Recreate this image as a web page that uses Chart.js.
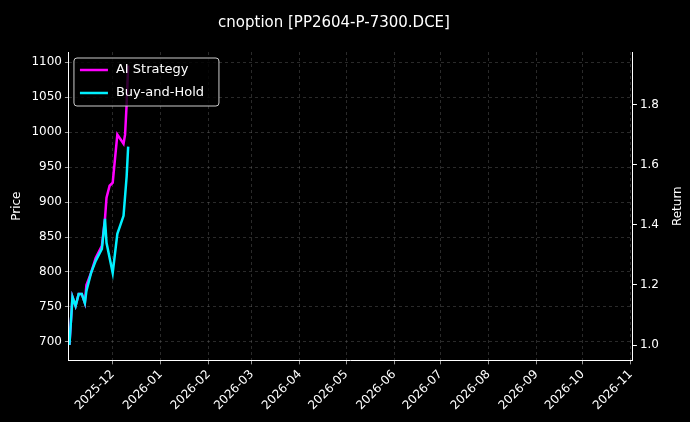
<!DOCTYPE html>
<html><head><meta charset="utf-8">
<script src="https://cdn.jsdelivr.net/npm/chart.js@4"></script>
<style>body{margin:0;background:#000}canvas{display:block}</style>
</head><body>
<canvas id="c" width="690" height="422"></canvas>
<script>
const dates = ["2025-11-03","2025-11-05","2025-11-07","2025-11-09","2025-11-11","2025-11-13","2025-11-14","2025-11-17","2025-11-20","2025-11-24","2025-11-26","2025-11-27","2025-11-29","2025-12-01","2025-12-04","2025-12-08","2025-12-09","2025-12-10","2025-12-11"];
const aiStrategy = [1.00,1.16,1.13,1.17,1.17,1.14,1.20,1.24,1.29,1.33,1.42,1.49,1.53,1.54,1.70,1.67,1.70,1.80,1.93];
const buyHold    = [1.00,1.16,1.13,1.17,1.17,1.14,1.18,1.24,1.28,1.32,1.42,1.34,null,1.24,1.37,1.43,null,1.56,1.66];
const monthTicks = ["2025-12-01","2026-01-01","2026-02-01","2026-03-01","2026-04-01","2026-05-01","2026-06-01","2026-07-01","2026-08-01","2026-09-01","2026-10-01","2026-11-01"];
const priceTicks = [700,750,800,850,900,950,1000,1050,1100];
const returnTicks = [1.0,1.2,1.4,1.6,1.8];

const DAY = 86400000;
const base = Date.UTC(2025,10,1);
const toDay = s => (Date.parse(s + "T00:00:00Z") - base) / DAY;
const fmt = d => { const t = new Date(base + d*DAY); return t.getUTCFullYear() + "-" + String(t.getUTCMonth()+1).padStart(2,"0"); };

const pts = arr => dates.map((d,i) => ({x: toDay(d), y: arr[i]})).filter(p => p.y !== null);

const legendBox = {
  id: "legendBox",
  afterDraw(chart) {
    const ctx = chart.ctx, a = chart.chartArea;
    const x0 = a.left + 5, y0 = a.top + 6;
    ctx.save();
    ctx.fillStyle = "rgba(0,0,0,0.8)";
    ctx.strokeStyle = "#cccccc";
    ctx.lineWidth = 1;
    ctx.beginPath(); ctx.roundRect(x0, y0, 145, 48, 3); ctx.fill(); ctx.stroke();
    ctx.font = "13px 'DejaVu Sans'";
    ctx.textBaseline = "middle";
    chart.data.datasets.forEach((ds, i) => {
      const y = y0 + 12 + i*23;
      ctx.strokeStyle = ds.borderColor; ctx.lineWidth = 2.5;
      ctx.beginPath(); ctx.moveTo(x0+6, y); ctx.lineTo(x0+34, y); ctx.stroke();
      ctx.fillStyle = "#ffffff"; ctx.fillText(ds.label, x0+42, y);
    });
    // right axis title, reading bottom-to-top
    ctx.translate(678, (a.top + a.bottom) / 2);
    ctx.rotate(-Math.PI / 2);
    ctx.textAlign = "center";
    ctx.font = "12px 'DejaVu Sans'";
    ctx.fillText("Return", 0, 0);
    ctx.restore();
  }
};

const font = {family: "'DejaVu Sans'", size: 12};
const grid = {color: "rgba(128,128,128,0.55)", tickColor: "#ffffff", tickLength: 4, lineWidth: 0.6};
new Chart(document.getElementById("c"), {
  type: "line",
  data: { datasets: [
    {label: "AI Strategy", data: pts(aiStrategy), borderColor: "#ff00ff", borderWidth: 2.5, pointRadius: 0, yAxisID: "y1", tension: 0, order: 1},
    {label: "Buy-and-Hold", data: pts(buyHold), borderColor: "#00f0ff", borderWidth: 2.5, pointRadius: 0, yAxisID: "y1", tension: 0, order: 0}
  ]},
  plugins: [legendBox],
  options: {
    responsive: false, animation: false,
    layout: {padding: {top: 14, right: 28, left: 6, bottom: 6}},
    plugins: {
      legend: {display: false}, tooltip: {enabled: false},
      title: {display: true, text: "cnoption [PP2604-P-7300.DCE]", color: "#ffffff", font: {family: "'DejaVu Sans'", size: 15, weight: "normal"}, padding: {top: 0, bottom: 20}}
    },
    scales: {
      x: {
        type: "linear", min: 1.7, max: 366.4,
        afterBuildTicks: s => { s.ticks = monthTicks.map(m => ({value: toDay(m)})); },
        ticks: {color: "#ffffff", font: font, maxRotation: 45, minRotation: 45, callback: v => fmt(v)},
        grid: grid,
        border: {color: "#ffffff", dash: [3, 3]}
      },
      y: {
        position: "left", min: 673.5, max: 1114.7,
        afterBuildTicks: s => { s.ticks = priceTicks.map(v => ({value: v})); },
        ticks: {color: "#ffffff", font: font, callback: v => String(v)},
        grid: grid,
        border: {color: "#ffffff", dash: [3, 3]},
        title: {display: true, text: "Price", color: "#ffffff", font: font}
      },
      y1: {
        position: "right", min: 0.949, max: 1.975,
        afterBuildTicks: s => { s.ticks = returnTicks.map(v => ({value: v})); },
        ticks: {color: "#ffffff", font: font, callback: v => v.toFixed(1)},
        grid: {drawOnChartArea: false, tickColor: "#ffffff", tickLength: 4},
        border: {color: "#ffffff"}
      }
    }
  }
});
</script>
</body></html>
